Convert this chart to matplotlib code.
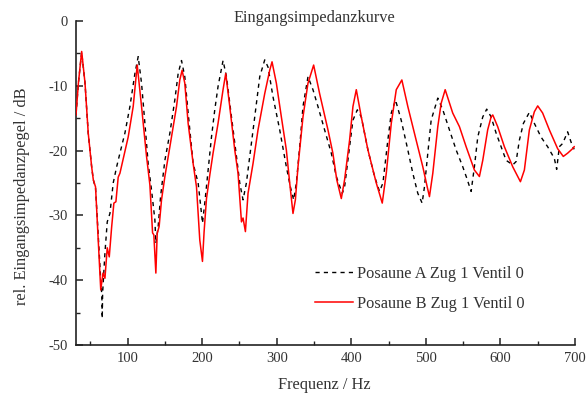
import numpy as np
import matplotlib
matplotlib.use("Agg")
import matplotlib.pyplot as plt
from matplotlib.ticker import MultipleLocator

plt.rcParams['font.family'] = ['Liberation Serif', 'DejaVu Serif']
plt.rcParams['axes.unicode_minus'] = False

# Posaune A Zug 1 Ventil 0 (black, dashed)
freq_a = [30.8, 34.0, 38.4, 42.9, 47.2, 51.8, 54.0, 57.0, 60.6, 63.5, 65.5, 66.0, 66.5,
          69.6, 72.7, 76.3, 80.7, 85.3, 89.7, 96.4, 103.1, 109.8, 114.2, 118.7, 123.2,
          127.6, 132.1, 136.6, 137.9, 141.0, 144.2, 150.0, 156.7, 163.3, 167.8, 172.3,
          176.7, 181.2, 187.9, 194.6, 199.1, 200.4, 203.5, 208.0, 212.5, 216.9, 221.3,
          228.0, 232.6, 239.3, 246.0, 250.4, 254.8, 259.3, 263.8, 270.5, 277.2, 283.9,
          288.3, 295.0, 304.0, 312.9, 318.3, 322.7, 326.3, 330.8, 335.2, 341.9, 348.6,
          355.3, 364.2, 373.2, 379.9, 387.9, 391.0, 397.7, 402.2, 408.1, 413.4, 422.3,
          431.2, 437.9, 442.4, 449.0, 453.6, 459.3, 466.9, 475.8, 482.5, 489.2, 495.0,
          498.1, 502.6, 507.1, 516.0, 522.7, 531.6, 540.6, 549.5, 555.0, 560.7, 565.1,
          569.6, 576.3, 581.6, 587.5, 594.2, 600.9, 607.6, 616.5, 621.0, 625.4, 630.8,
          638.8, 645.5, 654.4, 663.3, 672.3, 675.4, 679.0, 683.5, 690.1, 696.8, 699.0]
level_a = [-14.5, -9.6, -4.8, -9.6, -17.3, -22.5, -24.5, -25.8, -33.0, -39.0, -42.5, -45.9, -42.0,
           -35.8, -31.0, -29.7, -25.0, -22.5, -20.4, -17.3, -13.2, -8.1, -5.5, -9.6, -15.8,
           -22.0, -26.1, -30.7, -34.3, -31.7, -27.1, -21.5, -17.3, -12.2, -8.1, -6.1,
           -8.6, -14.2, -22.0, -25.0, -29.7, -31.2, -28.1, -23.0, -17.9, -13.7, -10.1,
           -6.1, -8.6, -14.8, -20.9, -25.0, -27.6, -25.0, -20.9, -14.8, -8.6, -6.0,
           -7.1, -11.7, -16.8, -22.5, -25.6, -27.6, -25.0, -19.4, -13.2, -8.6, -10.6,
           -13.2, -16.8, -20.4, -24.0, -26.6, -25.6, -19.4, -15.3, -13.7, -14.8, -19.9,
           -24.0, -26.3, -25.0, -18.4, -14.2, -12.2, -15.3, -19.9, -23.5, -26.6, -28.1,
           -25.6, -20.4, -15.3, -11.9, -13.7, -16.8, -19.9, -22.5, -24.3, -26.3, -22.5,
           -17.9, -14.8, -13.6, -14.8, -17.3, -19.4, -21.5, -22.2, -21.7, -18.4, -15.8,
           -14.1, -15.8, -17.9, -19.4, -21.2, -22.9, -19.4, -18.9, -17.1, -19.4, -19.8]

# Posaune B Zug 1 Ventil 0 (red, solid)
freq_b = [30.8, 34.0, 38.4, 42.9, 47.2, 51.8, 54.0, 57.0, 60.6, 64.0, 67.0, 69.6, 72.7,
          75.4, 78.6, 81.6, 84.3, 87.4, 89.7, 100.8, 107.5, 112.9, 118.7, 125.4, 129.9,
          133.5, 135.2, 137.9, 139.7, 142.3, 145.5, 150.0, 156.7, 165.6, 170.0, 173.1,
          176.7, 181.2, 187.9, 192.4, 196.8, 200.4, 202.6, 205.8, 210.2, 214.6, 221.3,
          228.0, 231.6, 237.0, 243.7, 248.1, 252.7, 254.8, 258.0, 261.5, 268.2, 274.9,
          283.9, 290.6, 293.7, 299.5, 306.2, 312.9, 317.4, 321.8, 325.0, 328.5, 335.2,
          341.9, 349.5, 357.5, 368.7, 375.3, 380.5, 386.6, 391.0, 397.7, 402.2, 406.7,
          413.4, 422.3, 433.5, 441.5, 446.9, 453.6, 460.3, 467.8, 475.8, 487.0, 495.9,
          501.8, 504.8, 509.3, 516.0, 520.5, 525.9, 536.0, 545.0, 554.0, 565.1, 571.8,
          576.3, 582.9, 587.5, 589.7, 596.3, 605.3, 616.5, 626.8, 632.1, 638.8, 645.5,
          650.0, 656.6, 665.6, 676.7, 684.3, 690.1, 696.8, 699.0]
level_b = [-14.5, -9.6, -4.7, -9.6, -17.3, -22.5, -24.5, -25.6, -33.8, -41.5, -38.9, -39.7, -35.0,
           -36.4, -31.8, -28.1, -27.9, -24.1, -23.5, -17.9, -13.2, -6.8, -13.2, -20.9, -25.3,
           -32.7, -33.0, -38.9, -32.8, -31.7, -27.6, -24.0, -19.4, -13.2, -9.1, -7.6,
           -9.6, -15.8, -22.0, -25.6, -33.8, -37.1, -32.5, -27.4, -23.8, -20.4, -15.8,
           -10.6, -8.1, -13.2, -19.9, -23.5, -31.0, -30.4, -32.5, -26.6, -22.0, -16.8,
           -11.2, -7.6, -6.3, -9.6, -14.8, -19.9, -25.0, -29.7, -27.6, -22.5, -14.8,
           -9.6, -6.8, -11.2, -16.8, -20.4, -24.5, -27.4, -24.5, -18.4, -13.2, -10.6,
           -14.8, -19.9, -25.0, -28.1, -23.5, -15.8, -10.6, -9.1, -13.2, -18.4, -22.5,
           -25.6, -27.1, -23.5, -16.3, -12.7, -10.6, -14.2, -16.3, -19.4, -23.0, -24.0,
           -21.5, -16.8, -14.8, -14.5, -16.3, -19.4, -22.5, -24.8, -23.0, -16.8, -14.0,
           -13.1, -14.2, -16.8, -19.7, -20.9, -20.4, -19.7, -19.4]

fig = plt.figure(figsize=(5.87, 3.94), dpi=100)
ax = fig.add_axes([76/587, 1-345/394, (575-76)/587, (345-21)/394])

ax.plot(freq_a, level_a, color='black', lw=1.0, ls=(0, (3, 3)),
        label='Posaune A Zug 1 Ventil 0', zorder=2)
ax.plot(freq_b, level_b, color='#ff0000', lw=1.1,
        label='Posaune B Zug 1 Ventil 0', zorder=3)

ax.set_xlim(30.8, 700)
ax.set_ylim(-50, 0)
ax.xaxis.set_major_locator(MultipleLocator(100))
ax.xaxis.set_minor_locator(MultipleLocator(50))
ax.yaxis.set_major_locator(MultipleLocator(10))
ax.yaxis.set_minor_locator(MultipleLocator(5))

for s in ['top', 'right']:
    ax.spines[s].set_visible(False)
for s in ['left', 'bottom']:
    ax.spines[s].set_linewidth(1.2)
    ax.spines[s].set_color('#222222')

ax.tick_params(which='major', direction='in', length=5, width=1.1, colors='#222222',
               labelsize=10.5, labelcolor='#333333')
ax.tick_params(which='minor', direction='in', length=3, width=1.0, colors='#222222')
ax.tick_params(axis='y', pad=6)
ax.tick_params(axis='x', pad=5)

txt_size = 11.8
leg = ax.legend(loc='upper left', bbox_to_anchor=(315/587, 1-266/394),
                bbox_transform=fig.transFigure, frameon=False, fontsize=txt_size,
                handlelength=2.3, handletextpad=0.25, labelspacing=0.85,
                borderpad=0, borderaxespad=0)
for t in leg.get_texts():
    t.set_color('#333333')

fig.text(314/587, 1-18/394, 'Eingangsimpedanzkurve', ha='center', va='center',
         fontsize=txt_size, color='#333333')
fig.text(324/587, 1-385/394, 'Frequenz / Hz', ha='center', va='center',
         fontsize=txt_size, color='#333333')
fig.text(22/587, 1-196/394, 'rel. Eingangsimpedanzpegel / dB', ha='center', va='center',
         rotation=90, fontsize=txt_size, color='#333333')

fig.savefig('out.png', dpi=100)
